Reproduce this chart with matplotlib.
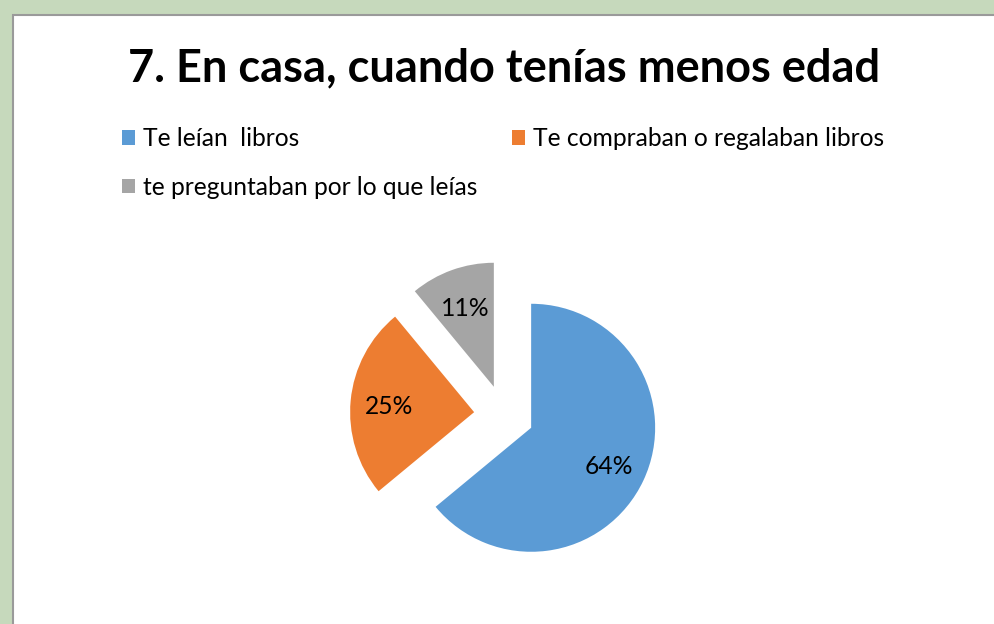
import matplotlib.pyplot as plt
from matplotlib.patches import Rectangle

# Données du graphique
categorias = ['Te leían  libros', 'Te compraban o regalaban libros', 'te preguntaban por lo que leías']
porcentajes = [64, 25, 11]
colores = ['#5B9BD5', '#ED7D31', '#A5A5A5']
titulo = '7. En casa, cuando tenías menos edad'

plt.rcParams['font.family'] = ['Lato', 'DejaVu Sans']

W, H = 994, 624
fig = plt.figure(figsize=(W / 100, H / 100), dpi=100)
fig.patch.set_facecolor('#C6D9BC')

# Marco: fondo blanco con borde gris (la zona verde queda fuera)
fig.patches.append(Rectangle((13 / W, -0.01), 1, 1.01 - 15 / H, transform=fig.transFigure,
                             facecolor='white', edgecolor='#9A9A9A', linewidth=1.5, zorder=-5))

ax = fig.add_axes([0, 0, 1, 1])
ax.patch.set_visible(False)

# ejes en píxeles: radio 124 px, porciones separadas 30 px
radio = 124
wedges, textos, autotextos = ax.pie(
    porcentajes, colors=colores, startangle=90, counterclock=False,
    center=(504, H - 415), radius=radio, explode=[30] * 3,
    autopct='%1.0f%%', pctdistance=0.69,
    textprops={'fontsize': 17.7, 'color': 'black'})
for t in autotextos:
    t.set_va('center_baseline')

# pie() fija sus propios límites: se ponen en píxeles después
ax.set_xlim(0, W)
ax.set_ylim(0, H)
ax.set_aspect('equal')
ax.axis('off')

fig.text(504 / W, 1 - 68 / H, titulo, ha='center', va='center',
         fontsize=32.5, fontweight='bold', color='black')

# Leyenda en dos columnas (orden: azul, gris | naranja)
orden = [0, 2, 1]
ax.legend([wedges[i] for i in orden], [categorias[i] for i in orden],
          ncol=2, loc='upper left', bbox_to_anchor=(100 / W, 1 - 105 / H),
          bbox_transform=fig.transFigure, frameon=False, fontsize=17.7,
          handlelength=0.53, handleheight=0.53, handletextpad=0.33,
          columnspacing=1.38, labelspacing=1.04)

fig.savefig('out.png', dpi=100)
